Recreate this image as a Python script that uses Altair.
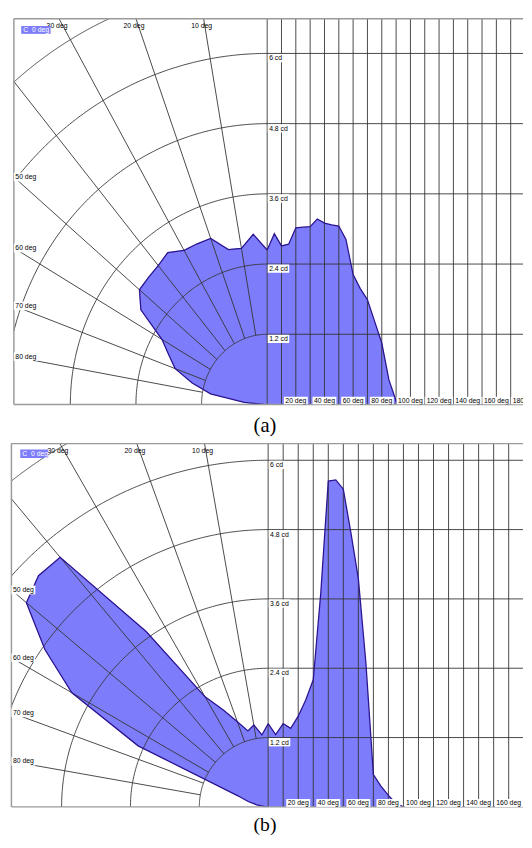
import math
import pandas as pd
import altair as alt

# ---------------- data ----------------
angles = list(range(0, 185, 5))                      # deg (C 0 plane)
intensity_a = [2.64, 2.92, 2.71, 2.74, 3.02, 3.03, 3.04, 3.17, 3.10, 3.07,
               3.05, 2.82, 2.22, 1.98, 1.79, 1.42, 1.05, 0.42, 0.06] + [0.0] * 18
intensity_b = [1.44, 1.25, 1.44, 1.36, 1.57, 1.85, 2.20, 3.70, 5.64, 5.66,
               5.50, 4.75, 3.95, 2.50, 0.56, 0.36, 0.20, 0.06, 0.0] + [0.0] * 18

ring_values = [1.2, 2.4, 3.6, 4.8, 6.0, 7.2]          # cd
cd_values = [1.2, 2.4, 3.6, 4.8, 6.0]
cd_labels = ["1.2 cd", "2.4 cd", "3.6 cd", "4.8 cd", "6 cd"]
ray_angles = [10, 20, 30, 40, 50, 60, 70, 80]
top_angle_labels = [10, 20, 30]
left_angle_labels = [50, 60, 70, 80]
grid_degrees = list(range(0, 190, 10))
deg_labels = list(range(20, 200, 20))
legend_text = ["C", "0 deg"]
captions = ["(a)", "(b)"]

# ---------------- styling / layout ----------------
FILL = "#7d7dfb"
OUT = "#2c1490"
GRID = "#333333"
FRAME = "#9a9a9a"
FONT = "Liberation Sans"
FS = 7
DEG_U = 0.0262          # horizontal units per degree on the cartesian side

PANEL_A = dict(ppu=55.84, ppc=59.75, W=523, H=394, ox=261.7, fl=3.0,
               leg=(10.5, 40.5, 7.5, 15.5), toff=9, tsize=21)
PANEL_B = dict(ppu=58.6, ppc=59.0, W=523, H=371, ox=262.7, fl=0.5,
               leg=(9.5, 38.0, 6.0, 14.7), toff=6.5, tsize=20)


def text_w(s, fs=FS):
    w = {".": 0.278, " ": 0.278, "c": 0.5}
    return sum(w.get(ch, 0.556) for ch in s) * fs


def build(intens, P, caption):
    ppu, ppc, W, H, ox, fl = P["ppu"], P["ppc"], P["W"], P["H"], P["ox"], P["fl"]
    xmin, xmax, ymax = -ox / ppu, (W - ox) / ppu, H / ppc
    xl = (fl - ox) / ppu
    sx = alt.Scale(domain=[xmin, xmax], nice=False, zero=False)
    sy = alt.Scale(domain=[0, ymax], nice=False, zero=False)

    def X(f):
        return alt.X(f, type="quantitative", scale=sx, axis=None)

    def Y(f):
        return alt.Y(f, type="quantitative", scale=sy, axis=None)

    # shape (polar + cartesian)
    prow, crow = [], []
    for i, (a, v) in enumerate(zip(angles, intens)):
        if a <= 90:
            t = math.radians(a)
            prow.append(dict(idx=i, x=-v * math.sin(t), y=v * math.cos(t)))
        if a * DEG_U <= xmax:
            crow.append(dict(idx=i, x=a * DEG_U, y=v))
    pdf = pd.DataFrame(prow)
    # polygon for the polar fill is closed through the pole (origin)
    pdf_fill = pd.concat([pdf, pd.DataFrame([dict(idx=len(angles), x=0.0, y=0.0)])],
                         ignore_index=True)
    cdf_shape = pd.DataFrame(crow)

    # cartesian fill: plain area down to zero
    fill_c = alt.Chart(cdf_shape).mark_area(color=FILL).encode(x=X("x"), y=Y("y"))
    # polar fill: closed polygon through the points
    fill_p = alt.Chart(pdf_fill).mark_line(fill=FILL, stroke=FILL, strokeWidth=0.6).encode(
        x=X("x"), y=Y("y"), order=alt.Order("idx:Q"))

    def line(df):
        return alt.Chart(df).mark_line(color=OUT, strokeWidth=1.3, clip=True).encode(
            x=X("x"), y=Y("y"), order=alt.Order("idx:Q"))

    line_p, line_c = line(pdf), line(cdf_shape)

    # rings
    rows = []
    for r in ring_values:
        lo = math.degrees(math.acos(min(1.0, ymax / r)))
        hi = math.degrees(math.asin(min(1.0, -xl / r)))
        if hi <= lo:
            continue
        n = 150
        for k in range(n + 1):
            t = math.radians(lo + (hi - lo) * k / n)
            rows.append(dict(ring=r, idx=k, x=-r * math.sin(t), y=r * math.cos(t)))
    rings = alt.Chart(pd.DataFrame(rows)).mark_line(color=GRID, strokeWidth=0.9).encode(
        x=X("x"), y=Y("y"), detail="ring:N", order="idx:Q")

    # rays
    rows = []
    r0 = ring_values[0]
    for a in ray_angles:
        t = math.radians(a)
        s, c = math.sin(t), math.cos(t)
        tm = min(-xl / s, ymax / c)
        rows.append(dict(x=-r0 * s, y=r0 * c, x2=-tm * s, y2=tm * c))
    rays = alt.Chart(pd.DataFrame(rows)).mark_rule(color=GRID, strokeWidth=0.9).encode(
        x=X("x"), y=Y("y"), x2="x2:Q", y2="y2:Q")

    # cartesian grid
    hdf = pd.DataFrame({"y": cd_values, "x": [0.0] * len(cd_values), "x2": [xmax] * len(cd_values)})
    hr = alt.Chart(hdf).mark_rule(color=GRID, strokeWidth=0.9).encode(
        x=X("x"), x2="x2:Q", y=Y("y"))
    vx = [d * DEG_U for d in grid_degrees if d * DEG_U <= xmax]
    vdf = pd.DataFrame({"x": vx, "y": [0.0] * len(vx), "y2": [ymax] * len(vx)})
    vr = alt.Chart(vdf).mark_rule(color=GRID, strokeWidth=0.9).encode(
        x=X("x"), y=Y("y"), y2="y2:Q")

    one = pd.DataFrame({"k": [0]})
    f_top = alt.Chart(one).mark_rule(color=FRAME, strokeWidth=1.5).encode(
        x=alt.value(fl), x2=alt.value(W), y=alt.value(0))
    f_left = alt.Chart(one).mark_rule(color=FRAME, strokeWidth=1.5).encode(
        x=alt.value(fl), y=alt.value(0), y2=alt.value(H))
    f_bot = alt.Chart(one).mark_rule(color=FRAME, strokeWidth=1.5).encode(
        x=alt.value(fl), x2=alt.value(W), y=alt.value(H))

    # cd labels
    cdf = pd.DataFrame({
        "text": cd_labels, "x": [0.0] * len(cd_values), "y": cd_values,
        "bx1": [0.6 / ppu] * len(cd_values),
        "bx2": [(text_w(s) + 3.5) / ppu for s in cd_labels],
        "by1": [v - 0.5 / ppc for v in cd_values],
        "by2": [v - 9.0 / ppc for v in cd_values]})
    cd_box = alt.Chart(cdf).mark_rect(color="white", clip=True).encode(
        x=X("bx1"), x2="bx2:Q", y=Y("by1"), y2="by2:Q")
    cd_txt = alt.Chart(cdf).mark_text(font=FONT, fontSize=FS, align="left", baseline="top",
                                      dx=2, dy=1.2, color="black", clip=True).encode(
        x=X("x"), y=Y("y"), text="text:N")

    # degree labels along the bottom
    dl = [f"{d} deg" for d in deg_labels]
    ddf = pd.DataFrame({
        "text": dl, "x": [d * DEG_U for d in deg_labels], "y": [0.0] * len(dl),
        "bx1": [d * DEG_U - (text_w(s) / 2 + 1.5) / ppu for d, s in zip(deg_labels, dl)],
        "bx2": [d * DEG_U + (text_w(s) / 2 + 1.5) / ppu for d, s in zip(deg_labels, dl)],
        "by2": [8.0 / ppc] * len(dl)})
    d_box = alt.Chart(ddf).mark_rect(color="white", clip=True).encode(
        x=X("bx1"), x2="bx2:Q", y=Y("y"), y2="by2:Q")
    d_txt = alt.Chart(ddf).mark_text(font=FONT, fontSize=FS, align="center", baseline="bottom",
                                     dy=-0.5, color="black", clip=True).encode(
        x=X("x"), y=Y("y"), text="text:N")

    # angle labels on the left edge
    rows = []
    for a in left_angle_labels:
        t = math.radians(a)
        tm = -xl / math.sin(t)
        s = f"{a} deg"
        yv = tm * math.cos(t)
        rows.append(dict(text=s, x=xl, y=yv, bx2=xl + (text_w(s) + 3) / ppu,
                         by1=yv - 4.5 / ppc, by2=yv + 4.5 / ppc))
    ldf = pd.DataFrame(rows)
    l_box = alt.Chart(ldf).mark_rect(color="white").encode(
        x=X("x"), x2="bx2:Q", y=Y("by1"), y2="by2:Q")
    l_txt = alt.Chart(ldf).mark_text(font=FONT, fontSize=FS, align="left", baseline="middle",
                                     dx=1.5, color="black").encode(
        x=X("x"), y=Y("y"), text="text:N")

    # angle labels at the top edge
    rows = []
    for a in top_angle_labels:
        t = math.radians(a)
        tm = ymax / math.cos(t)
        rows.append(dict(text=f"{a} deg", x=-tm * math.sin(t), y=ymax))
    t_txt = alt.Chart(pd.DataFrame(rows)).mark_text(
        font=FONT, fontSize=FS, align="center", baseline="top", dx=-2, dy=3.5,
        color="black").encode(x=X("x"), y=Y("y"), text="text:N")

    # legend chip
    lx1, lx2, ly1, ly2 = P["leg"]
    leg_box = alt.Chart(one).mark_rect(color=FILL).encode(
        x=alt.value(lx1), x2=alt.value(lx2), y=alt.value(ly1), y2=alt.value(ly2))
    leg_c = alt.Chart(one).mark_text(font=FONT, fontSize=FS, align="left", baseline="middle",
                                     color="white", text=legend_text[0]).encode(
        x=alt.value(lx1 + 2), y=alt.value((ly1 + ly2) / 2))
    leg_d = alt.Chart(one).mark_text(font=FONT, fontSize=FS, align="left", baseline="middle",
                                     color="white", text=legend_text[1]).encode(
        x=alt.value(lx1 + 11), y=alt.value((ly1 + ly2) / 2))

    return alt.layer(
        fill_p, fill_c, rings, rays, hr, vr, line_p, line_c, f_top, f_left, f_bot,
        cd_box, cd_txt, d_box, d_txt, l_box, l_txt, t_txt, leg_box, leg_c, leg_d
    ).properties(
        width=W, height=H,
        title=alt.TitleParams(caption, orient="bottom", anchor="middle",
                              font="Liberation Serif", fontSize=P["tsize"],
                              fontWeight="normal", color="black",
                              offset=P["toff"], dx=-2))


panel_a = build(intensity_a, PANEL_A, captions[0])
panel_b = build(intensity_b, PANEL_B, captions[1])

chart = alt.vconcat(panel_a, panel_b, spacing=40, bounds="flush").properties(
    padding={"left": 1, "right": 0, "top": 0, "bottom": 0},
    background="white",
).configure_view(strokeWidth=0)

chart.save("out.html", embed_options={"renderer": "svg", "actions": False})
